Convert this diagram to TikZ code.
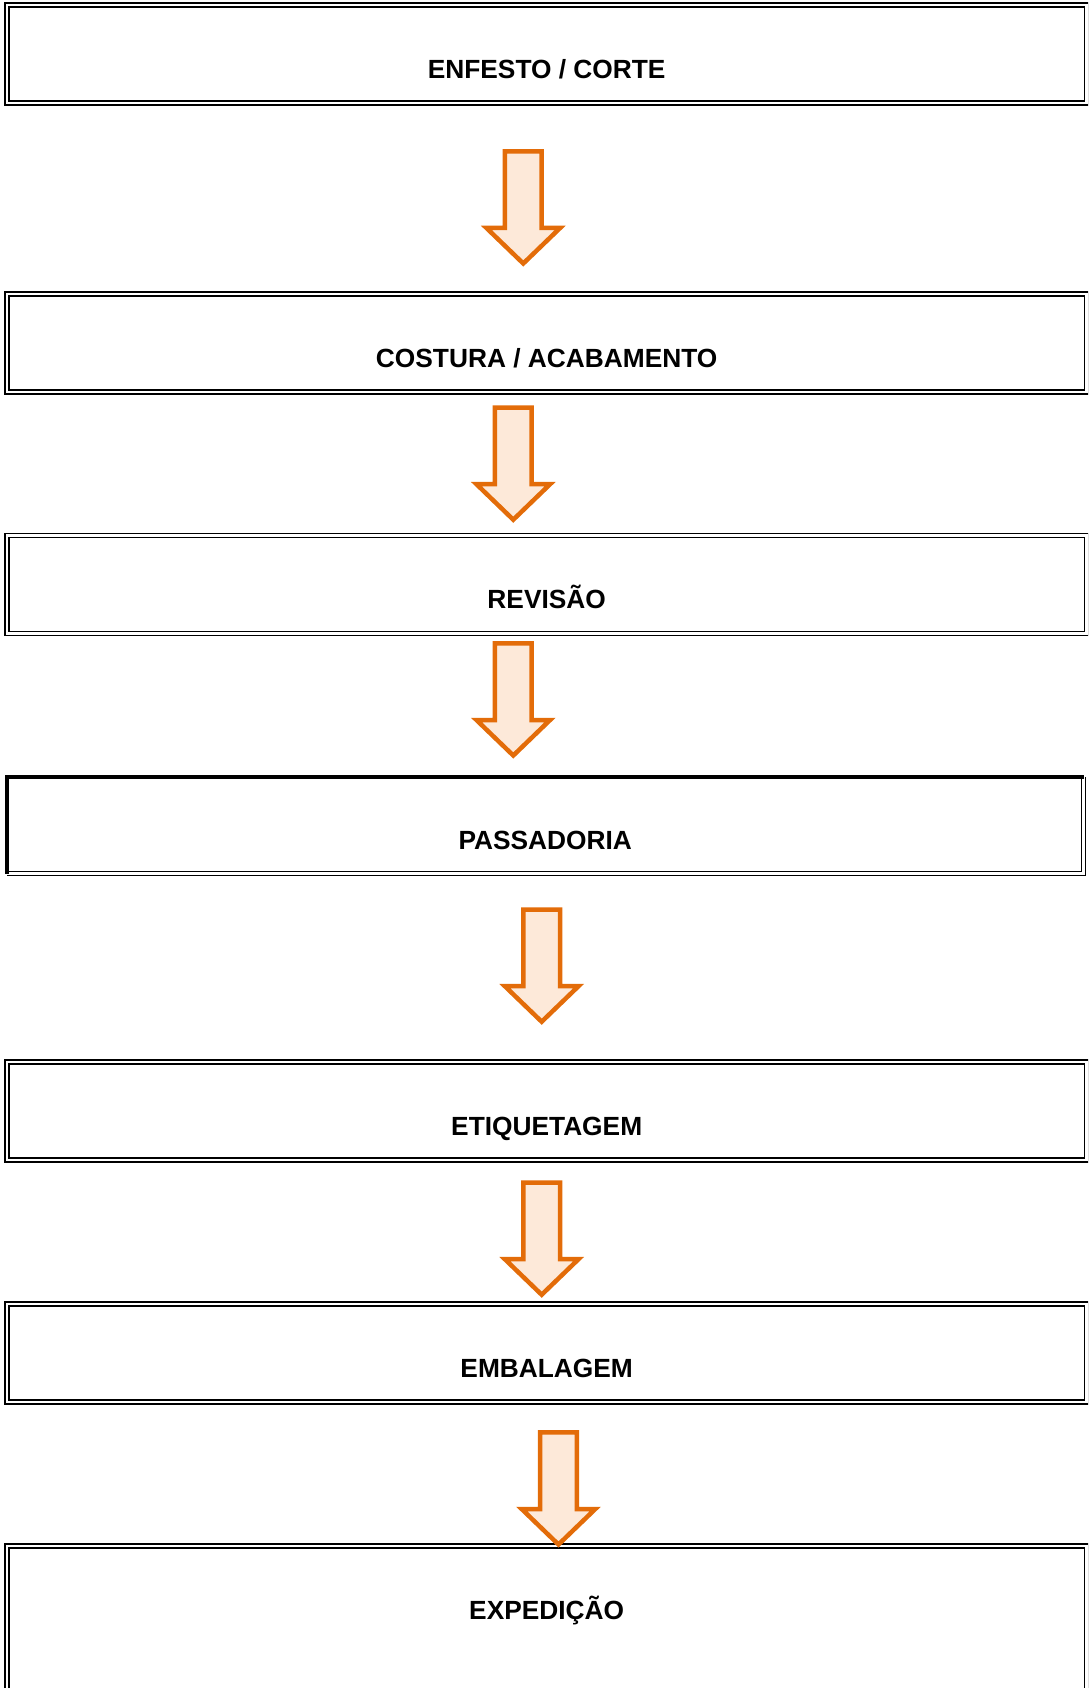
\documentclass[tikz,border=0pt]{standalone}
\usepackage{fontspec}
\setmainfont{Liberation Sans}
\usetikzlibrary{calc}
\definecolor{setaborda}{RGB}{227,108,9}
\definecolor{setafundo}{RGB}{253,233,217}
\tikzset{
  etapa/.style={draw, line width=1.6pt, double, double distance=2.4pt,
    anchor=north west, outer sep=0pt, inner xsep=0pt, inner ysep=0pt,
    minimum width=1079.65pt, text height=73pt, text depth=25pt,
    font=\bfseries\fontsize{26.3}{30}\selectfont},
  seta/.pic={
    \draw[draw=setaborda, fill=setafundo, line width=4.5pt]
      (-18.4,0) -- (18.4,0) -- (18.4,76.7) -- (36.8,76.7) -- (0,112.2)
      -- (-36.8,76.7) -- (-18.4,76.7) -- cycle;
  },
}

\begin{document}
\begin{tikzpicture}[x=1pt, y=-1pt]
  \useasboundingbox (0,0) rectangle (1088,1688);
  \clip (0,0) rectangle (1088,1688);

  \node[etapa] (corte) at (6.85,5.3) {ENFESTO / CORTE};
  \node[etapa] (costura) at (6.85,294.2) {COSTURA / ACABAMENTO};
  \node[etapa] (revisao) at (6.85,535.5) {REVISÃO};
  \node[etapa, draw=none, minimum width=1076.75pt, text height=72.2pt,
    text depth=24.5pt] (passadoria) at (6.85,776.8) {PASSADORIA};
  \node[etapa] (etiquetagem) at (6.85,1062) {ETIQUETAGEM};
  \node[etapa] (embalagem) at (6.85,1304) {EMBALAGEM};
  \node[etapa, text depth=250pt] (expedicao) at (6.85,1546) {EXPEDIÇÃO};

  % passadoria: thick on left and top, double on right and bottom
  \draw[line width=1.6pt, double, double distance=2.4pt]
    (passadoria.north east) -- (passadoria.south east) -- (passadoria.south west);
  \draw[line width=4.3pt]
    (passadoria.south west) -- (passadoria.north west) -- (passadoria.north east);

  \foreach \de/\dx/\dy in {corte/-23.4/48, costura/-33.4/15.3,
      revisao/-33.4/9.8, passadoria/-3.55/36, etiquetagem/-5/22.5,
      embalagem/11.8/30.3}
    \pic at ([shift={(\dx,\dy)}]\de.south) {seta};
\end{tikzpicture}
\end{document}
